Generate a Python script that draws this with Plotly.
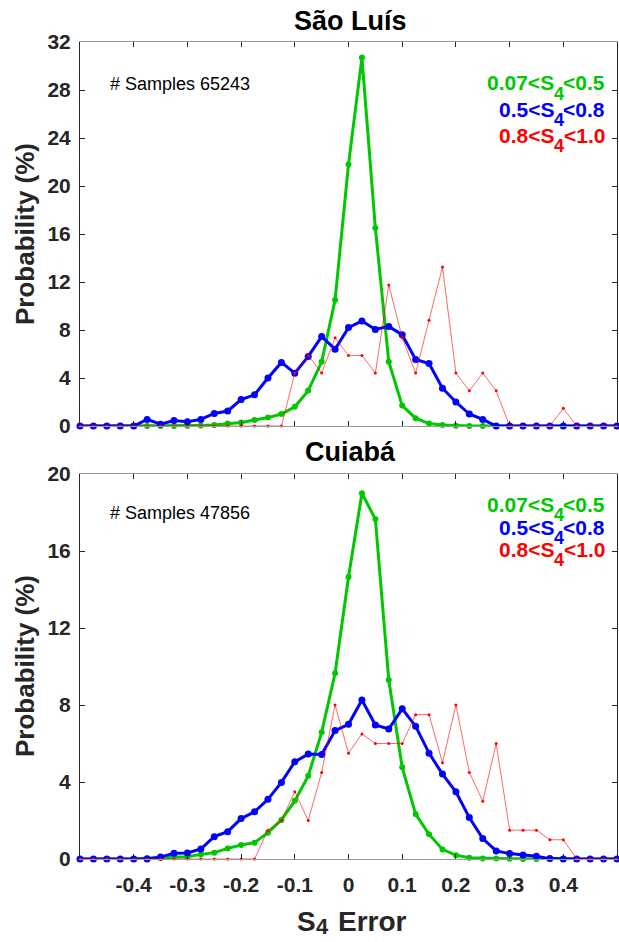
import plotly.graph_objects as go

# Bin centres of S4 error
bins = [-0.500, -0.475, -0.450, -0.425, -0.400, -0.375, -0.350, -0.325, -0.300, -0.275,
        -0.250, -0.225, -0.200, -0.175, -0.150, -0.125, -0.100, -0.075, -0.050, -0.025,
        0.000, 0.025, 0.050, 0.075, 0.100, 0.125, 0.150, 0.175, 0.200, 0.225,
        0.250, 0.275, 0.300, 0.325, 0.350, 0.375, 0.400, 0.425, 0.450, 0.475, 0.500]

# São Luís
sl_green = [0, 0, 0, 0, 0, 0, 0, 0.01, 0.02, 0.05,
            0.08, 0.2, 0.3, 0.5, 0.7, 1.0, 1.6, 2.95, 5.35, 10.5,
            21.8, 30.7, 16.5, 5.35, 1.7, 0.65, 0.2, 0.08, 0.02, 0.01,
            0, 0, 0, 0, 0, 0, 0, 0, 0, 0, 0]
sl_blue = [0, 0, 0, 0, 0, 0.55, 0.15, 0.45, 0.36, 0.55,
           1.05, 1.25, 2.2, 2.6, 4.0, 5.3, 4.4, 5.8, 7.45, 6.4,
           8.2, 8.75, 8.05, 8.3, 7.6, 5.55, 5.2, 3.15, 2.0, 1.0,
           0.55, 0, 0, 0, 0, 0, 0, 0, 0, 0, 0]
sl_red = [0, 0, 0, 0, 0, 0, 0, 0, 0, 0,
          0, 0, 0, 0, 0, 0, 4.41, 5.88, 4.41, 7.35,
          5.88, 5.88, 4.41, 11.76, 7.35, 4.41, 8.82, 13.24, 4.41, 2.94,
          4.41, 2.94, 0, 0, 0, 0, 1.47, 0, 0, 0, 0]

# Cuiabá
cu_green = [0, 0, 0, 0, 0, 0.05, 0.05, 0.1, 0.12, 0.24,
            0.33, 0.55, 0.73, 0.85, 1.37, 2.03, 3.02, 4.32, 6.58, 9.65,
            14.65, 19.0, 17.66, 9.3, 4.76, 2.33, 1.28, 0.5, 0.19, 0.07,
            0.03, 0.02, 0.01, 0, 0, 0, 0, 0, 0, 0, 0]
cu_blue = [0, 0, 0, 0, 0, 0, 0.1, 0.3, 0.31, 0.52,
           1.16, 1.42, 2.1, 2.45, 3.1, 3.98, 5.05, 5.45, 5.43, 6.67,
           7.0, 8.26, 6.96, 6.75, 7.8, 6.9, 5.5, 4.41, 3.49, 2.15,
           1.06, 0.42, 0.28, 0.21, 0.14, 0.02, 0, 0, 0, 0, 0]
cu_red = [0, 0, 0, 0, 0, 0, 0, 0, 0, 0,
          0, 0, 0, 0, 1.5, 2.0, 3.5, 2.0, 4.5, 8.0,
          5.5, 6.5, 6.0, 6.0, 6.0, 7.5, 7.5, 5.0, 8.0, 4.5,
          3.0, 6.0, 1.5, 1.5, 1.5, 1.0, 1.0, 0, 0, 0, 0]

xticks = [-0.4, -0.3, -0.2, -0.1, 0, 0.1, 0.2, 0.3, 0.4]
xticklabels = ["-0.4", "-0.3", "-0.2", "-0.1", "0", "0.1", "0.2", "0.3", "0.4"]
yticks_top = [0, 4, 8, 12, 16, 20, 24, 28, 32]
yticks_bot = [0, 4, 8, 12, 16, 20]

# Legend texts: (head, subscript, tail)
legend_labels = [("0.07<S", "4", "<0.5"), ("0.5<S", "4", "<0.8"), ("0.8<S", "4", "<1.0")]

GREEN = "rgb(0,200,0)"
BLUE = "rgb(0,0,255)"
RED = "rgb(255,0,0)"
FONT = "Liberation Sans, Arial, sans-serif"
DARK = "#262626"

fig = go.Figure()

def add_set(green, blue, red, xa, ya):
    fig.add_trace(go.Scatter(x=bins, y=green, mode="lines+markers", xaxis=xa, yaxis=ya,
                             line=dict(color=GREEN, width=3), marker=dict(color=GREEN, size=6),
                             cliponaxis=False, showlegend=False))
    fig.add_trace(go.Scatter(x=bins, y=blue, mode="lines+markers", xaxis=xa, yaxis=ya,
                             line=dict(color=BLUE, width=3), marker=dict(color=BLUE, size=7),
                             cliponaxis=False, showlegend=False))
    fig.add_trace(go.Scatter(x=bins, y=red, mode="lines+markers", xaxis=xa, yaxis=ya,
                             line=dict(color="rgba(255,0,0,0.6)", width=1),
                             marker=dict(color=RED, size=3),
                             cliponaxis=False, showlegend=False))

add_set(sl_green, sl_blue, sl_red, "x", "y")
add_set(cu_green, cu_blue, cu_red, "x2", "y2")

H = 942.0
L, W = 80.0, 537.0
def py(p):
    return 1 - p / H
def px(p):
    return (p - L) / W

axis_common = dict(showline=True, mirror="allticks", ticks="inside", ticklen=5,
                   tickcolor=DARK, tickwidth=1, showgrid=False, zeroline=False,
                   automargin=False,
                   tickfont=dict(family=FONT, size=21, color=DARK, weight="bold"))

fig.update_layout(
    width=619, height=942,
    margin=dict(l=80, r=2, t=0, b=0, pad=0, autoexpand=False),
    paper_bgcolor="white", plot_bgcolor="white",
    font=dict(family=FONT),
    showlegend=False,
    xaxis=dict(domain=[0, 1], anchor="y", range=[-0.5, 0.5], tickvals=xticks,
               showticklabels=False, linecolor="#9a9a9a", **axis_common),
    yaxis=dict(domain=[py(426), py(42)], anchor="x", range=[0, 32], tickvals=yticks_top,
               linecolor=DARK, ticklabelstandoff=4, **axis_common),
    xaxis2=dict(domain=[0, 1], anchor="y2", range=[-0.5, 0.5], tickvals=xticks,
                ticktext=xticklabels, linecolor="#9a9a9a", ticklabelstandoff=7, **axis_common),
    yaxis2=dict(domain=[py(859), py(474)], anchor="x2", range=[0, 20], tickvals=yticks_bot,
                linecolor=DARK, ticklabelstandoff=4, **axis_common),
)

def ann(text, x, y, size, color="black", bold=True, xanchor="center", yanchor="middle",
        xref="paper", angle=0):
    fig.add_annotation(text=text, x=x, y=y, xref=xref, yref="paper", showarrow=False,
                       xanchor=xanchor, yanchor=yanchor, textangle=angle,
                       font=dict(family=FONT, size=size, color=color,
                                 weight="bold" if bold else "normal"))

# Arial/Liberation Sans Bold advance widths (per 1000 em) for text layout
ADV = {"0": 556, "1": 556, "4": 556, "5": 556, "7": 556, "8": 556, ".": 278,
       "<": 584, "S": 667}
def width(s, size):
    return sum(ADV[c] for c in s) * size / 1000.0

# Titles
ann("São Luís", px(350), py(21), 27)
ann("Cuiabá", px(350), py(452), 27)
# Y titles
ann("Probability (%)", px(25), py(234), 26, color=DARK, angle=-90)
ann("Probability (%)", px(25), py(666), 26, color=DARK, angle=-90)
# X title: S, subscript 4, Error
ann("S", px(295), py(921), 28, color=DARK, xanchor="left")
ann("4", px(313.7), py(926.5), 22, color=DARK, xanchor="left")
ann("Error", px(336), py(921), 28, color=DARK, xanchor="left")
# Sample counts
ann("# Samples 65243", px(108), py(84), 18, bold=False, xanchor="left")
ann("# Samples 47856", px(108), py(512.5), 18, bold=False, xanchor="left")

# Legend texts, built as head + lowered subscript + tail, right-aligned
MAIN, SUB, DROP = 21, 18, 10.5
RIGHT = 607.0
def legend_block(centers):
    for (head, sub, tail), color, yc in zip(legend_labels, [GREEN, BLUE, RED], centers):
        x_tail = RIGHT
        x_sub = x_tail - width(tail, MAIN)
        x_head = x_sub - width(sub, SUB)
        ann(tail, px(x_tail), py(yc), MAIN, color=color, xanchor="right")
        ann(sub, px(x_sub), py(yc + DROP), SUB, color=color, xanchor="right")
        ann(head, px(x_head), py(yc), MAIN, color=color, xanchor="right")

legend_block([83, 109.5, 135.5])
legend_block([504.5, 527.5, 549.5])

fig.write_html("out.html")
